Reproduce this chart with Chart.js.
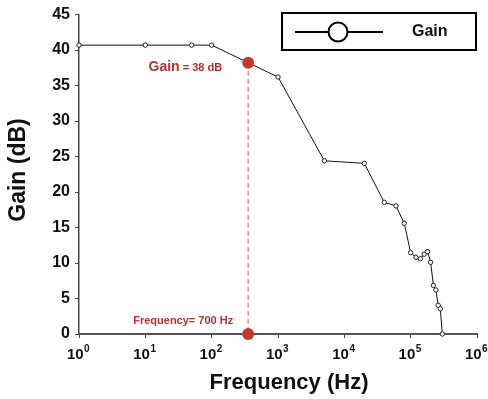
<!DOCTYPE html>
<html>
<head>
<meta charset="utf-8">
<script src="https://cdn.jsdelivr.net/npm/chart.js@4.4.1/dist/chart.umd.min.js"></script>
<style>
html,body{margin:0;padding:0;background:#fff;}
#wrap{width:488px;height:399px;position:relative;}
</style>
</head>
<body>
<div id="wrap"><canvas id="c" width="488" height="399"></canvas></div>
<script>
// ---- data ----
const freqHz = [1, 10, 50, 100, 1000, 5000, 20000, 40000, 60000, 80000, 100000, 120000, 140000, 160000, 180000, 200000, 220000, 240000, 260000, 280000, 300000];
const gainDb = [40.7, 40.7, 40.7, 40.7, 36.2, 24.4, 24.05, 18.55, 18.05, 15.6, 11.45, 10.8, 10.6, 11.25, 11.6, 10.1, 6.85, 6.2, 4.05, 3.55, 0];
const seriesName = 'Gain';
const markerFreq = [355, 355];
const markerGain = [38.2, 0];
const markerLabels = ['Gain = 38 dB', 'Frequency= 700 Hz'];
const xTickExponents = [0, 1, 2, 3, 4, 5, 6];
const yTicks = [0, 5, 10, 15, 20, 25, 30, 35, 40, 45];
const xTitle = 'Frequency (Hz)';
const yTitle = 'Gain (dB)';

const FONT = '"Liberation Sans", Arial, sans-serif';
const RED = '#b5302b';

const overlay = {
  id: 'overlay',
  afterDraw(chart) {
    const ctx = chart.ctx;
    const xs = chart.scales.x, ys = chart.scales.y;
    ctx.save();
    // x tick labels 10^n
    ctx.fillStyle = '#111';
    ctx.textBaseline = 'alphabetic';
    xTickExponents.forEach(e => {
      const px = xs.getPixelForValue(Math.pow(10, e));
      ctx.font = 'bold 15px ' + FONT;
      const w1 = ctx.measureText('10').width;
      ctx.font = 'bold 10px ' + FONT;
      const w2 = ctx.measureText(String(e)).width;
      const start = px - (w1 + w2) / 2 - 1;
      ctx.font = 'bold 15px ' + FONT;
      ctx.textAlign = 'left';
      ctx.fillText('10', start, 359);
      ctx.font = 'bold 10px ' + FONT;
      ctx.fillText(String(e), start + w1 + 0.5, 352);
    });
    // axis titles
    ctx.fillStyle = '#111';
    ctx.font = 'bold 22px ' + FONT;
    ctx.textAlign = 'center';
    ctx.textBaseline = 'middle';
    ctx.fillText(xTitle, (xs.left + xs.right) / 2 + 11, 383);
    ctx.save();
    ctx.translate(19, 170);
    ctx.rotate(-Math.PI / 2);
    ctx.font = 'bold 23px ' + FONT;
    ctx.fillText(yTitle, 0, 0);
    ctx.restore();
    // marker annotations
    ctx.fillStyle = RED;
    ctx.textBaseline = 'alphabetic';
    ctx.textAlign = 'left';
    const gx = xs.getPixelForValue(markerFreq[0]);
    const gy = ys.getPixelForValue(markerGain[0]);
    const parts = markerLabels[0].split(' = ');
    ctx.font = 'bold 14px ' + FONT;
    const wA = ctx.measureText(parts[0]).width;
    ctx.font = 'bold 11px ' + FONT;
    const wB = ctx.measureText(' = ' + parts[1]).width;
    let sx = gx - 26 - wA - wB;
    ctx.font = 'bold 14px ' + FONT;
    ctx.fillText(parts[0], sx, gy + 8);
    ctx.font = 'bold 11px ' + FONT;
    ctx.fillText(' = ' + parts[1], sx + wA, gy + 8);
    ctx.font = 'bold 11px ' + FONT;
    ctx.textAlign = 'right';
    ctx.fillText(markerLabels[1], gx - 15, ys.getPixelForValue(markerGain[1]) - 10);
    // legend
    ctx.strokeStyle = '#000';
    ctx.lineWidth = 2;
    ctx.strokeRect(282, 13, 194, 37);
    ctx.beginPath();
    ctx.moveTo(295, 32); ctx.lineTo(383, 32);
    ctx.stroke();
    ctx.beginPath();
    ctx.arc(338, 32, 9.5, 0, Math.PI * 2);
    ctx.fillStyle = '#fff';
    ctx.fill();
    ctx.stroke();
    ctx.fillStyle = '#111';
    ctx.font = 'bold 16px ' + FONT;
    ctx.textAlign = 'left';
    ctx.textBaseline = 'middle';
    ctx.fillText(seriesName, 412, 32);
    ctx.restore();
  }
};

new Chart(document.getElementById('c'), {
  type: 'scatter',
  data: {
    datasets: [
      {
        label: 'cutoff',
        data: markerFreq.map((f, i) => ({x: f, y: markerGain[i]})),
        showLine: true,
        clip: false,
        borderColor: '#e8736b',
        borderWidth: 1.2,
        borderDash: [5, 3],
        pointRadius: 6,
        pointBackgroundColor: '#c0392b',
        pointBorderColor: '#c0392b',
        pointBorderWidth: 0,
        order: 0
      },
      {
        label: seriesName,
        data: freqHz.map((f, i) => ({x: f, y: gainDb[i]})),
        showLine: true,
        clip: false,
        borderColor: '#111',
        borderWidth: 1,
        pointRadius: 2.2,
        pointBackgroundColor: '#fff',
        pointBorderColor: '#222',
        pointBorderWidth: 1,
        order: 1
      }
    ]
  },
  options: {
    responsive: false,
    animation: false,
    events: [],
    layout: {padding: {top: 14, right: 11, left: 0, bottom: 0}},
    plugins: {legend: {display: false}, tooltip: {enabled: false}},
    scales: {
      x: {
        type: 'logarithmic',
        min: 1, max: 1e6,
        afterBuildTicks: s => { s.ticks = xTickExponents.map(e => ({value: Math.pow(10, e)})); },
        afterFit: s => { s.height = 65; },
        grid: {drawOnChartArea: false, drawTicks: true, tickLength: 4, color: '#444', tickWidth: 1},
        border: {color: '#555', width: 2},
        ticks: {display: true, callback: () => '', font: {size: 1}}
      },
      y: {
        min: 0, max: 45,
        afterBuildTicks: s => { s.ticks = yTicks.map(v => ({value: v})); },
        afterFit: s => { s.width = 79; },
        grid: {drawOnChartArea: false, drawTicks: true, tickLength: 4, color: '#444', tickWidth: 1},
        border: {color: '#444', width: 1.5},
        ticks: {color: '#111', padding: 5, font: {family: FONT, size: 16, weight: 'bold'}}
      }
    }
  },
  plugins: [overlay]
});
</script>
</body>
</html>
